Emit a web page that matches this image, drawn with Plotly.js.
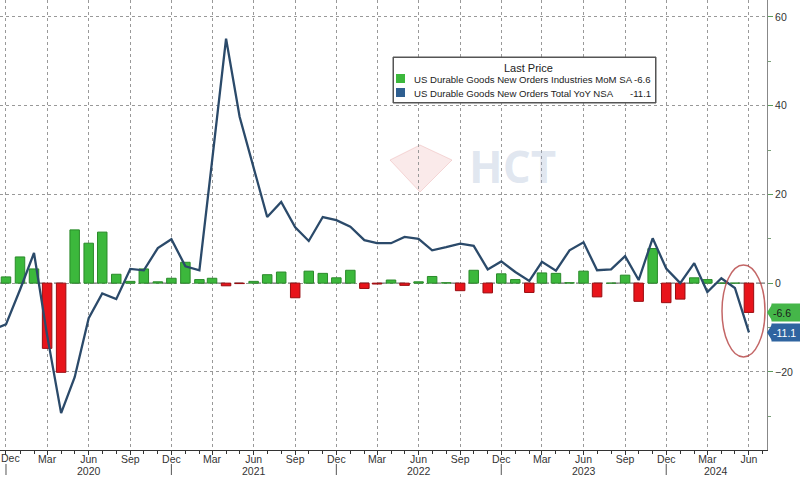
<!DOCTYPE html>
<html><head><meta charset="utf-8">
<script src="https://cdn.plot.ly/plotly-3.0.1.min.js"></script>
<style>html,body{margin:0;padding:0;background:#fff}#chart{width:800px;height:480px}</style>
</head><body><div id="chart"></div>
<script>
const months = ['2019-11','2019-12','2020-01','2020-02','2020-03','2020-04','2020-05','2020-06','2020-07','2020-08','2020-09','2020-10','2020-11','2020-12',
'2021-01','2021-02','2021-03','2021-04','2021-05','2021-06','2021-07','2021-08','2021-09','2021-10','2021-11','2021-12',
'2022-01','2022-02','2022-03','2022-04','2022-05','2022-06','2022-07','2022-08','2022-09','2022-10','2022-11','2022-12',
'2023-01','2023-02','2023-03','2023-04','2023-05','2023-06','2023-07','2023-08','2023-09','2023-10','2023-11','2023-12',
'2024-01','2024-02','2024-03','2024-04','2024-05','2024-06'];
const momSA = [null,1.4,5.9,3.2,-14.7,-20.1,12.0,9.0,11.5,2.0,0.4,3.2,0.3,1.1,
4.7,0.8,1.1,-0.6,-0.1,0.4,1.9,2.5,-3.3,2.7,2.2,1.2,
2.9,-1.2,-0.2,0.7,-0.5,0.3,1.5,0.1,-1.7,2.9,-2.2,2.1,
0.8,-2.1,2.3,2.2,0.1,2.7,-3.1,0.0,1.8,-4.1,7.8,-4.4,
-3.6,1.2,0.8,0.0,0.0,-6.6];
const yoyNSA = [-10.5,-9.3,-1.5,6.8,-11.7,-29.3,-21.2,-7.9,-2.3,-3.6,3.2,2.9,7.9,9.9,
3.8,2.9,27.5,55.1,37.5,26.2,14.9,18.3,12.6,9.5,14.9,14.2,
12.7,9.7,9.0,9.0,10.4,10.0,7.4,8.1,8.9,8.4,3.1,4.9,
2.5,0.5,4.8,2.8,7.4,9.2,2.9,3.1,6.1,0.7,10.1,3.3,
0.0,4.5,-2.0,1.1,-1.1,-11.1];
const years = ['2020','2021','2022','2023','2024'];
const yearLabelPos = ['2020-06-01','2021-06-01','2022-06-01','2023-06-01','2024-03-21'];
const yearBreaks = ['2019-12-01','2020-12-01','2021-12-01','2022-12-01','2023-12-01'];
const firstTickLabel = 'Dec';
const legendTitle = 'Last Price';
const seriesNames = ['US Durable Goods New Orders Industries MoM SA','US Durable Goods New Orders Total YoY NSA'];

const GREEN = '#3cb83c', RED = '#e8141b', BLUE = '#2b4a6a', BLUE_BOX = '#2f64a0', GREEN_BOX = '#45b649';
const barColors = momSA.map(v => v === null ? GREEN : (v >= 0 ? GREEN : RED));
const barLines = momSA.map(v => v === null ? '#2a8a2a' : (v >= 0 ? '#2a8a2a' : '#9a0c10'));

const lastMom = momSA[momSA.length-1];
const lastYoy = yoyNSA[yoyNSA.length-1];

const W = 767, H = 450;
const px = x => x / W, py = y => 1 - y / H;

const traces = [
  {type:'bar', x: months, y: momSA, width: 21*86400000,
   marker:{color: barColors, line:{color: barLines, width:1}}, name: seriesNames[0], hoverinfo:'skip'},
  {type:'scatter', mode:'lines', x: months, y: yoyNSA, line:{color: BLUE, width:2.3}, name: seriesNames[1], hoverinfo:'skip'}
];

const shapes = [
  {type:'line', xref:'paper', yref:'y', x0:0, x1:1, y0:0, y1:0, line:{color:'#444', width:1, dash:'dash'}, layer:'below'},
  // legend box fill
  {type:'rect', xref:'paper', yref:'paper', x0:px(393), x1:px(656), y0:py(103), y1:py(57), line:{color:'#555', width:1}, fillcolor:'#ffffff', layer:'above'},
  {type:'rect', xref:'paper', yref:'paper', x0:px(396), x1:px(405), y0:py(83), y1:py(74), line:{width:0}, fillcolor:GREEN, layer:'above'},
  {type:'rect', xref:'paper', yref:'paper', x0:px(396), x1:px(405), y0:py(97), y1:py(88), line:{width:0}, fillcolor:'#2f5f90', layer:'above'},
  // highlight ellipse
  {type:'circle', xref:'paper', yref:'paper', x0:px(722), x1:px(765), y0:py(357), y1:py(265), line:{color:'rgba(185,75,75,0.85)', width:1.5}, layer:'above'},
  // watermark diamond
  {type:'path', xref:'paper', yref:'paper', layer:'below',
   path:`M ${px(390)},${py(160)} L ${px(420)},${py(145)} L ${px(452)},${py(160)} L ${px(420)},${py(192)} Z`,
   fillcolor:'rgba(230,140,140,0.18)', line:{color:'rgba(220,120,120,0.25)', width:1}},
  // value tag arrows
  {type:'path', xref:'paper', yref:'y', xsizemode:'pixel', ysizemode:'pixel', xanchor:1, yanchor:lastMom,
   path:'M 0,0 L 5,-8 L 5,8 Z', fillcolor:GREEN_BOX, line:{width:0}},
  {type:'path', xref:'paper', yref:'y', xsizemode:'pixel', ysizemode:'pixel', xanchor:1, yanchor:lastYoy,
   path:'M 0,0 L 5,-8 L 5,8 Z', fillcolor:BLUE_BOX, line:{width:0}}
];
yearBreaks.forEach(d => shapes.push({type:'line', xref:'x', yref:'paper', x0:d, x1:d, y0:py(464), y1:py(475), line:{color:'#555', width:1}}));

const fnt = '"Liberation Sans", Arial, sans-serif';
const ann = (x, y, text, xa, size, color, extra) => Object.assign({xref:'paper', yref:'paper', x:px(x), y:py(y), xanchor:xa, yanchor:'middle', text:text, showarrow:false, font:{family:fnt, size:size, color:color}}, extra || {});
const annotations = [
  // legend border
  {xref:'paper', yref:'paper', x:px(524.5), y:py(80), xanchor:'center', yanchor:'middle', text:'', showarrow:false,
   width:261, height:44, borderpad:0, bordercolor:'#555', borderwidth:1, bgcolor:'rgba(0,0,0,0)'},
  ann(528, 68, legendTitle, 'center', 11, '#222'),
  ann(412, 79, seriesNames[0], 'left', 9.6, '#222'),
  ann(412, 93, seriesNames[1], 'left', 9.6, '#222'),
  ann(653, 79, String(lastMom), 'right', 9.6, '#222'),
  ann(653, 93, String(lastYoy), 'right', 9.6, '#222'),
  {xref:'paper', yref:'y', x:1, xshift:4, y:lastMom, xanchor:'left', yanchor:'middle', text:String(lastMom), showarrow:false, bgcolor:GREEN_BOX, width:27, height:15, align:'left', font:{family:fnt, size:10.5, color:'#1a1a1a'}},
  {xref:'paper', yref:'y', x:1, xshift:4, y:lastYoy, xanchor:'left', yanchor:'middle', text:String(lastYoy), showarrow:false, bgcolor:BLUE_BOX, width:27, height:15, align:'left', font:{family:fnt, size:10.5, color:'#fff'}},
  ann(512, 166, '<b>HCT</b>', 'center', 44, 'rgba(150,170,205,0.28)', {font:{family:'"Open Sans", sans-serif', size:44, color:'rgba(150,170,205,0.28)'}}),
  ann(10, 458, firstTickLabel, 'center', 10.5, '#333')
];
years.forEach((t,i) => annotations.push({xref:'x', yref:'paper', x:yearLabelPos[i], y:py(471), xanchor:'center', yanchor:'middle', text:t, showarrow:false, font:{family:fnt, size:10.5, color:'#333'}}));

const layout = {
  width:800, height:480, margin:{l:0, r:33, t:0, b:30}, paper_bgcolor:'#fff', plot_bgcolor:'#fff',
  showlegend:false, bargap:0,
  xaxis:{type:'date', range:['2019-11-17 18:00','2024-07-11'], tick0:'2019-12-01', dtick:'M3', tickformat:'%b',
    showgrid:true, gridcolor:'#999', griddash:'dot', gridwidth:1,
    showline:true, linecolor:'#333', linewidth:1, ticks:'outside', ticklen:4, tickcolor:'#333',
    ticklabelstandoff:-5,
    minor:{dtick:'M1', tick0:'2019-12-01', ticks:'outside', ticklen:3, tickcolor:'#333', showgrid:false},
    tickfont:{family:fnt, size:10.5, color:'#333'}, zeroline:false, fixedrange:true},
  yaxis:{side:'right', range:[-37.6, 63.8], tick0:0, dtick:20, showgrid:true, gridcolor:'#999', griddash:'dot', gridwidth:1,
    zeroline:false, showline:true, linecolor:'#888', linewidth:1, ticks:'outside', ticklen:5, tickcolor:'#5a9a5a',
    minor:{dtick:10, ticks:'outside', ticklen:3, tickcolor:'#7aa07a', showgrid:false},
    tickfont:{family:fnt, size:10.5, color:'#333'}, fixedrange:true},
  shapes: shapes, annotations: annotations
};
Plotly.newPlot('chart', traces, layout, {staticPlot:true, displayModeBar:false});
</script></body></html>
